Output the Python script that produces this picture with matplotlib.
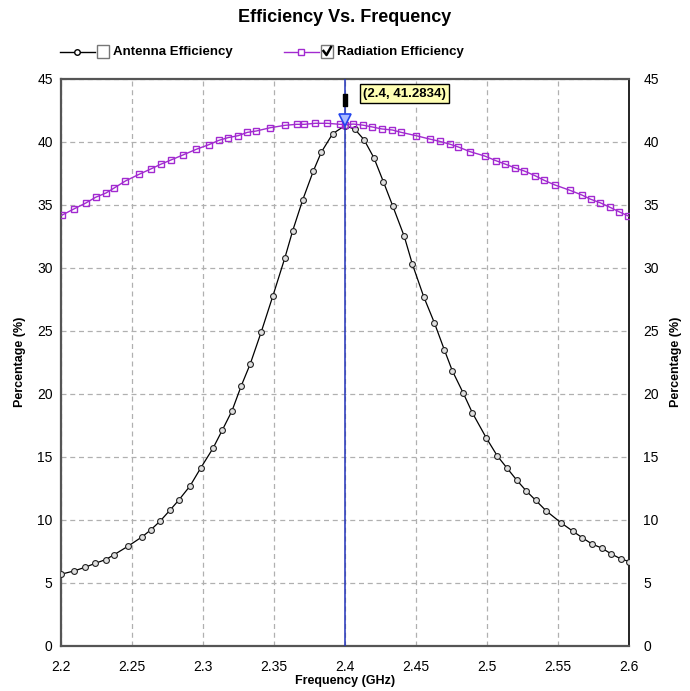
import matplotlib
matplotlib.use("Agg")
import matplotlib.pyplot as plt
import matplotlib.transforms as mtransforms
from matplotlib.lines import Line2D
from matplotlib.patches import Rectangle

plt.rcParams['font.family'] = ['Liberation Sans', 'DejaVu Sans']

# Antenna efficiency (adaptive sampling)
ant_freq = [2.2, 2.2092, 2.2169, 2.2242, 2.2314, 2.2371, 2.2474, 2.2572, 2.2631, 2.2699,
            2.2770, 2.2828, 2.2908, 2.2985, 2.3070, 2.3135, 2.3204, 2.3269, 2.3332, 2.3410,
            2.3492, 2.3575, 2.3631, 2.3701, 2.3776, 2.3832, 2.3912, 2.4, 2.4069, 2.4133,
            2.4203, 2.4269, 2.4335, 2.4416, 2.4473, 2.4553, 2.4628, 2.4698, 2.4754, 2.4832,
            2.4896, 2.4994, 2.5071, 2.5137, 2.5207, 2.5275, 2.5341, 2.5416, 2.5521, 2.5601,
            2.5669, 2.5737, 2.5806, 2.5873, 2.5939, 2.6]
ant_eff = [5.67, 5.93, 6.22, 6.54, 6.83, 7.20, 7.91, 8.65, 9.18, 9.90,
           10.79, 11.54, 12.67, 14.13, 15.67, 17.10, 18.65, 20.63, 22.36, 24.92,
           27.78, 30.75, 32.94, 35.37, 37.67, 39.16, 40.63, 41.2834, 40.98, 40.16,
           38.71, 36.83, 34.90, 32.49, 30.29, 27.70, 25.63, 23.49, 21.83, 20.03,
           18.47, 16.48, 15.06, 14.13, 13.15, 12.28, 11.54, 10.69, 9.74, 9.10,
           8.57, 8.07, 7.75, 7.28, 6.90, 6.67]

# Radiation efficiency
rad_freq = [2.2005, 2.2094, 2.2174, 2.2244, 2.2317, 2.2375, 2.2453, 2.2549, 2.2631, 2.2702,
            2.2774, 2.2857, 2.2953, 2.3040, 2.3112, 2.3175, 2.3248, 2.3311, 2.3375, 2.3473,
            2.3577, 2.3659, 2.3713, 2.3790, 2.3874, 2.3964, 2.4, 2.4057, 2.4123, 2.4191,
            2.4259, 2.4332, 2.4395, 2.4499, 2.4595, 2.4665, 2.4738, 2.4797, 2.4879, 2.4981,
            2.5062, 2.5125, 2.5198, 2.5262, 2.5337, 2.5400, 2.5478, 2.5583, 2.5666, 2.5729,
            2.5794, 2.5865, 2.5928, 2.5994]
rad_eff = [34.16, 34.68, 35.13, 35.59, 35.93, 36.33, 36.88, 37.41, 37.83, 38.21,
           38.55, 38.94, 39.40, 39.76, 40.11, 40.32, 40.48, 40.74, 40.85, 41.11,
           41.30, 41.38, 41.38, 41.46, 41.46, 41.38, 41.35, 41.40, 41.32, 41.17,
           41.01, 40.93, 40.74, 40.48, 40.21, 40.03, 39.80, 39.58, 39.21, 38.87,
           38.49, 38.23, 37.91, 37.67, 37.30, 36.94, 36.56, 36.14, 35.77, 35.43,
           35.16, 34.79, 34.44, 34.10]

x_ticks = [2.2, 2.25, 2.3, 2.35, 2.4, 2.45, 2.5, 2.55, 2.6]
x_labels = ["2.2", "2.25", "2.3", "2.35", "2.4", "2.45", "2.5", "2.55", "2.6"]
y_ticks = [0, 5, 10, 15, 20, 25, 30, 35, 40, 45]
cursor_x = 2.4
cursor_y = 41.2834

purple = "#a22ad0"

fig = plt.figure(figsize=(6.9, 6.91), dpi=100)
ax = fig.add_axes([0.0884, 0.0656, 0.8236, 0.8205])

ax.plot(ant_freq, ant_eff, color="black", lw=0.9, marker="o", ms=4.2,
        mfc="#e0e0e0", mec="#222222", mew=0.8, zorder=3)
ax.plot(rad_freq, rad_eff, color=purple, lw=1.0, marker="s", ms=4.8,
        mfc="none", mec=purple, mew=1.0, zorder=3)

ax.set_xlim(2.2, 2.6)
ax.set_ylim(0, 45)
ax.set_xticks(x_ticks)
ax.set_xticklabels(x_labels)
ax.set_yticks(y_ticks)
ax.grid(True, color="#b0b0b0", ls=(0, (4, 3)), lw=0.9)
ax.tick_params(length=0, labelsize=10, pad=6)
ax.tick_params(axis="x", pad=10)
for side in ["left", "bottom", "top"]:
    ax.spines[side].set_color("#555555")
    ax.spines[side].set_linewidth(1.6)
ax.spines["right"].set_color("black")
ax.spines["right"].set_linewidth(1.2)
ax.set_xlabel("Frequency (GHz)", fontsize=9, fontweight="bold", labelpad=1)
ax.set_ylabel("Percentage (%)", fontsize=9, fontweight="bold", labelpad=8)

ax2 = ax.twinx()
ax2.set_ylim(0, 45)
ax2.set_yticks(y_ticks)
ax2.tick_params(length=0, labelsize=10, pad=10)
for s in ax2.spines.values():
    s.set_visible(False)
ax2.set_ylabel("Percentage (%)", fontsize=9, fontweight="bold", labelpad=8)
ax2.yaxis.set_label_position("right")

# cursor
ax.axvline(cursor_x, color="#2233bb", lw=1.1, zorder=4)
off = mtransforms.offset_copy(ax.transData, fig=fig, x=0, y=6, units="dots")
ax.plot([cursor_x], [cursor_y], marker="v", ms=8, mfc="#aabbff", mec="#2244ee",
        mew=1.2, transform=off, zorder=5)
off2 = mtransforms.offset_copy(ax.transData, fig=fig, x=0, y=26, units="dots")
ax.plot([cursor_x], [cursor_y], marker="$\\mathbf{I}$", ms=9, color="black",
        transform=off2, zorder=5, clip_on=False)
ax.annotate("(%g, %g)" % (cursor_x, cursor_y), xy=(cursor_x, cursor_y),
            xytext=(13, 23), textcoords="offset points", fontsize=9.5,
            fontweight="bold", ha="left", va="center",
            bbox=dict(boxstyle="square,pad=0.25", fc="#ffffb4", ec="black", lw=1.0),
            zorder=6)

fig.text(0.5, 0.974, "Efficiency Vs. Frequency", ha="center", va="center",
         fontsize=13, fontweight="bold")

# legend drawn in figure pixels
def px(x, y):
    return x / 690, 1 - y / 691

def legend_entry(x0, label, color, marker, checked):
    ly = 52
    xs, ys = zip(px(x0, ly), px(x0 + 35, ly))
    fig.add_artist(Line2D(xs, ys, color=color, lw=1.0))
    mx, my = px(x0 + 17, ly)
    fig.add_artist(Line2D([mx], [my], color=color, marker=marker, ms=4,
                          mfc="white", mec=color, mew=1.0))
    bx, by = px(x0 + 37, 58)
    fig.add_artist(Rectangle((bx, by), 12 / 690, 13 / 691, fc="white",
                             ec="#777777", lw=1.0, transform=fig.transFigure))
    if checked:
        cx, cy = zip(px(x0 + 39.5, 51), px(x0 + 42.5, 55), px(x0 + 47, 47))
        fig.add_artist(Line2D(cx, cy, color="black", lw=1.8))
    tx, ty = px(x0 + 53, ly)
    fig.text(tx, ty, label, fontsize=9.5, fontweight="bold", ha="left", va="center")

legend_entry(60, "Antenna Efficiency", "black", "o", False)
legend_entry(284, "Radiation Efficiency", purple, "s", True)

fig.savefig("out.png", dpi=100)
